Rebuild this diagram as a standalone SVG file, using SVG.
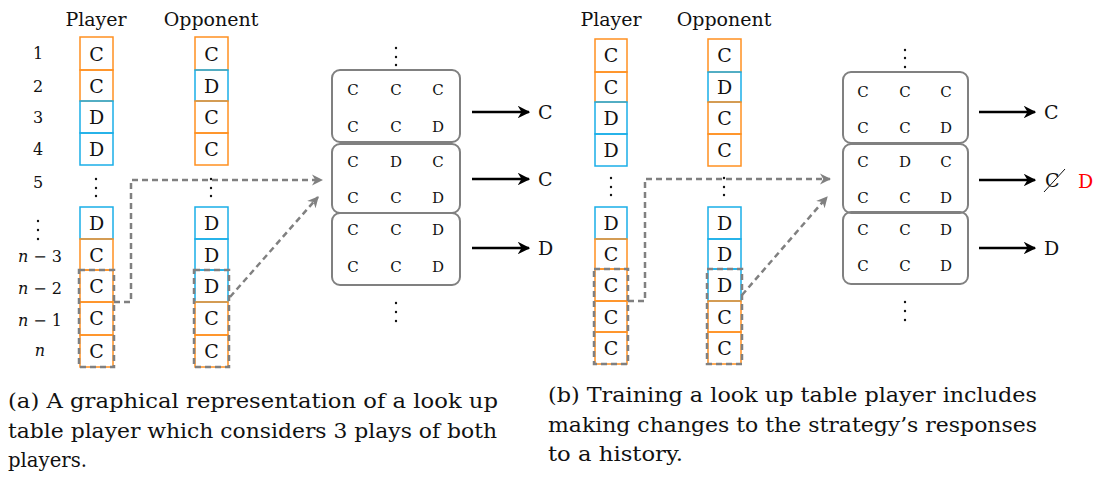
<svg xmlns="http://www.w3.org/2000/svg" width="1101" height="480" viewBox="0 0 1101 480">
<style>
text{font-family:"DejaVu Serif","Liberation Serif",serif;fill:#111}
.hd{font-size:19px;text-anchor:middle}
.cell{font-size:19px;text-anchor:middle;dominant-baseline:central}
.sm{font-size:15px;text-anchor:middle;dominant-baseline:central}
.lab{font-size:16px;text-anchor:middle;dominant-baseline:central}
.out{font-size:19px;dominant-baseline:central}
.cap{font-size:20px}
.o{fill:none;stroke:#FF9020;stroke-width:1.5}
.b{fill:none;stroke:#1AAEE8;stroke-width:1.5}
.dbox{fill:none;stroke:#808080;stroke-width:2.5;stroke-dasharray:6 4}
.dl{fill:none;stroke:#808080;stroke-width:2.5;stroke-dasharray:6 4}
.rb{fill:none;stroke:#808080;stroke-width:2}
.ar{stroke:#000;stroke-width:2.5;fill:none}
.dot{fill:#111}
</style>
<defs>
<marker id="ah" viewBox="0 0 10 10" refX="9" refY="5" markerWidth="5" markerHeight="5" orient="auto" markerUnits="strokeWidth">
<path d="M0,0 L10,5 L0,10 L3,5 Z" fill="#000"/>
</marker>
<marker id="ag" viewBox="0 0 10 10" refX="9" refY="5" markerWidth="4.5" markerHeight="4.5" orient="auto" markerUnits="strokeWidth">
<path d="M0,0 L10,5 L0,10 L3,5 Z" fill="#808080"/>
</marker>
</defs>

<!-- ===== Panel (a) ===== -->
<g id="a-headers">
<text class="hd" x="96" y="26">Player</text>
<text class="hd" x="211" y="26">Opponent</text>
</g>
<g id="a-rowlabels">
<text class="lab" x="38" y="53">1</text>
<text class="lab" x="38" y="86">2</text>
<text class="lab" x="38" y="117">3</text>
<text class="lab" x="38" y="149">4</text>
<text class="lab" x="38" y="182">5</text>
<circle class="dot" cx="38" cy="221" r="1.2"/><circle class="dot" cx="38" cy="230" r="1.2"/><circle class="dot" cx="38" cy="239" r="1.2"/>
<text class="lab" x="40" y="256"><tspan font-style="italic">n</tspan> − 3</text>
<text class="lab" x="40" y="288"><tspan font-style="italic">n</tspan> − 2</text>
<text class="lab" x="40" y="320"><tspan font-style="italic">n</tspan> − 1</text>
<text class="lab" x="40" y="350" font-style="italic">n</text>
</g>
<g id="a-player">
<rect class="o" x="80" y="37" width="33" height="33"/><text class="cell" x="96.5" y="54">C</text>
<rect class="o" x="80" y="70" width="33" height="31"/><text class="cell" x="96.5" y="86">C</text>
<rect class="b" x="80" y="101" width="33" height="32"/><text class="cell" x="96.5" y="117">D</text>
<rect class="b" x="80" y="133" width="33" height="32"/><text class="cell" x="96.5" y="149">D</text>
<circle class="dot" cx="96" cy="179" r="1.2"/><circle class="dot" cx="96" cy="188" r="1.2"/><circle class="dot" cx="96" cy="196" r="1.2"/>
<rect class="b" x="80" y="207" width="33" height="32"/><text class="cell" x="96.5" y="223">D</text>
<rect class="o" x="80" y="239" width="33" height="31"/><text class="cell" x="96.5" y="255">C</text>
<rect class="o" x="80" y="270" width="33" height="32"/><text class="cell" x="96.5" y="286">C</text>
<rect class="o" x="80" y="302" width="33" height="33"/><text class="cell" x="96.5" y="318">C</text>
<rect class="o" x="80" y="335" width="33" height="32"/><text class="cell" x="96.5" y="351">C</text>
<rect class="dbox" x="79" y="270" width="35" height="97"/>
</g>
<g id="a-opponent">
<rect class="o" x="195" y="37" width="33" height="33"/><text class="cell" x="211.5" y="54">C</text>
<rect class="b" x="195" y="70" width="33" height="31"/><text class="cell" x="211.5" y="86">D</text>
<rect class="o" x="195" y="101" width="33" height="32"/><text class="cell" x="211.5" y="117">C</text>
<rect class="o" x="195" y="133" width="33" height="32"/><text class="cell" x="211.5" y="149">C</text>
<circle class="dot" cx="211" cy="179" r="1.2"/><circle class="dot" cx="211" cy="188" r="1.2"/><circle class="dot" cx="211" cy="196" r="1.2"/>
<rect class="b" x="195" y="207" width="33" height="32"/><text class="cell" x="211.5" y="223">D</text>
<rect class="b" x="195" y="239" width="33" height="31"/><text class="cell" x="211.5" y="255">D</text>
<rect class="b" x="195" y="270" width="33" height="32"/><text class="cell" x="211.5" y="286">D</text>
<rect class="o" x="195" y="302" width="33" height="33"/><text class="cell" x="211.5" y="318">C</text>
<rect class="o" x="195" y="335" width="33" height="32"/><text class="cell" x="211.5" y="351">C</text>
<rect class="dbox" x="194" y="270" width="35" height="97"/>
</g>
<g id="a-table">
<circle class="dot" cx="396" cy="48" r="1.2"/><circle class="dot" cx="396" cy="57" r="1.2"/><circle class="dot" cx="396" cy="65" r="1.2"/>
<rect class="rb" x="332" y="70" width="128" height="72" rx="8"/>
<text class="sm" x="353" y="90">C</text><text class="sm" x="396" y="90">C</text><text class="sm" x="438" y="90">C</text>
<text class="sm" x="353" y="127">C</text><text class="sm" x="396" y="127">C</text><text class="sm" x="438" y="127">D</text>
<rect class="rb" x="332" y="144" width="128" height="69" rx="8"/>
<text class="sm" x="353" y="162">C</text><text class="sm" x="396" y="162">D</text><text class="sm" x="438" y="162">C</text>
<text class="sm" x="353" y="198">C</text><text class="sm" x="396" y="198">C</text><text class="sm" x="438" y="198">D</text>
<rect class="rb" x="332" y="213" width="128" height="72" rx="8"/>
<text class="sm" x="353" y="230">C</text><text class="sm" x="396" y="230">C</text><text class="sm" x="438" y="230">D</text>
<text class="sm" x="353" y="267">C</text><text class="sm" x="396" y="267">C</text><text class="sm" x="438" y="267">D</text>
<circle class="dot" cx="396" cy="303" r="1.2"/><circle class="dot" cx="396" cy="312" r="1.2"/><circle class="dot" cx="396" cy="321" r="1.2"/>
</g>
<g id="a-outputs">
<text class="out" x="538" y="112">C</text>
<text class="out" x="538" y="179">C</text>
<text class="out" x="538" y="248">D</text>
</g>

<!-- ===== Panel (b) ===== -->
<g id="b-headers">
<text class="hd" x="611" y="26">Player</text>
<text class="hd" x="724" y="26">Opponent</text>
</g>
<g id="b-player">
<rect class="o" x="595" y="39" width="32" height="33"/><text class="cell" x="611" y="55">C</text>
<rect class="o" x="595" y="72" width="32" height="30"/><text class="cell" x="611" y="87">C</text>
<rect class="b" x="595" y="102" width="32" height="32"/><text class="cell" x="611" y="118">D</text>
<rect class="b" x="595" y="134" width="32" height="32"/><text class="cell" x="611" y="150">D</text>
<circle class="dot" cx="611" cy="178" r="1.2"/><circle class="dot" cx="611" cy="187" r="1.2"/><circle class="dot" cx="611" cy="195" r="1.2"/>
<rect class="b" x="595" y="207" width="32" height="32"/><text class="cell" x="611" y="223">D</text>
<rect class="o" x="595" y="239" width="32" height="30"/><text class="cell" x="611" y="254">C</text>
<rect class="o" x="595" y="269" width="32" height="32"/><text class="cell" x="611" y="285">C</text>
<rect class="o" x="595" y="301" width="32" height="31"/><text class="cell" x="611" y="317">C</text>
<rect class="o" x="595" y="332" width="32" height="32"/><text class="cell" x="611" y="348">C</text>
<rect class="dbox" x="594" y="269" width="34" height="95"/>
</g>
<g id="b-opponent">
<rect class="o" x="708" y="39" width="33" height="33"/><text class="cell" x="724.5" y="55">C</text>
<rect class="b" x="708" y="72" width="33" height="30"/><text class="cell" x="724.5" y="87">D</text>
<rect class="o" x="708" y="102" width="33" height="32"/><text class="cell" x="724.5" y="118">C</text>
<rect class="o" x="708" y="134" width="33" height="32"/><text class="cell" x="724.5" y="150">C</text>
<circle class="dot" cx="724" cy="178" r="1.2"/><circle class="dot" cx="724" cy="187" r="1.2"/><circle class="dot" cx="724" cy="195" r="1.2"/>
<rect class="b" x="708" y="207" width="33" height="32"/><text class="cell" x="724.5" y="223">D</text>
<rect class="b" x="708" y="239" width="33" height="30"/><text class="cell" x="724.5" y="254">D</text>
<rect class="b" x="708" y="269" width="33" height="32"/><text class="cell" x="724.5" y="285">D</text>
<rect class="o" x="708" y="301" width="33" height="31"/><text class="cell" x="724.5" y="317">C</text>
<rect class="o" x="708" y="332" width="33" height="32"/><text class="cell" x="724.5" y="348">C</text>
<rect class="dbox" x="707" y="269" width="35" height="95"/>
</g>
<g id="b-table">
<circle class="dot" cx="905" cy="50" r="1.2"/><circle class="dot" cx="905" cy="58" r="1.2"/><circle class="dot" cx="905" cy="67" r="1.2"/>
<rect class="rb" x="843" y="72" width="125" height="71" rx="8"/>
<text class="sm" x="863" y="92">C</text><text class="sm" x="905" y="92">C</text><text class="sm" x="946" y="92">C</text>
<text class="sm" x="863" y="128">C</text><text class="sm" x="905" y="128">C</text><text class="sm" x="946" y="128">D</text>
<rect class="rb" x="843" y="144" width="125" height="69" rx="8"/>
<text class="sm" x="863" y="162">C</text><text class="sm" x="905" y="162">D</text><text class="sm" x="946" y="162">C</text>
<text class="sm" x="863" y="198">C</text><text class="sm" x="905" y="198">C</text><text class="sm" x="946" y="198">D</text>
<rect class="rb" x="843" y="212" width="125" height="72" rx="8"/>
<text class="sm" x="863" y="230">C</text><text class="sm" x="905" y="230">C</text><text class="sm" x="946" y="230">D</text>
<text class="sm" x="863" y="266">C</text><text class="sm" x="905" y="266">C</text><text class="sm" x="946" y="266">D</text>
<circle class="dot" cx="905" cy="302" r="1.2"/><circle class="dot" cx="905" cy="311" r="1.2"/><circle class="dot" cx="905" cy="320" r="1.2"/>
</g>
<g id="b-outputs">
<text class="out" x="1044" y="112">C</text>
<text class="out" x="1045" y="180">C</text>
<line x1="1044" y1="192" x2="1065" y2="169" stroke="#111" stroke-width="1"/>
<text class="out" x="1078" y="181" style="fill:#FF0000">D</text>
<text class="out" x="1044" y="248">D</text>
</g>

<!-- ===== Connectors ===== -->
<g id="connectors">
<path class="dl" d="M114,302 H131 V180 H322" marker-end="url(#ag)"/>
<path class="dl" d="M230,297 L318,197" marker-end="url(#ag)"/>
<line class="ar" x1="472" y1="112" x2="529" y2="112" marker-end="url(#ah)"/>
<line class="ar" x1="472" y1="179" x2="529" y2="179" marker-end="url(#ah)"/>
<line class="ar" x1="472" y1="248" x2="529" y2="248" marker-end="url(#ah)"/>
<path class="dl" d="M628,301 H645 V179 H830" marker-end="url(#ag)"/>
<path class="dl" d="M742,295 L827,197" marker-end="url(#ag)"/>
<line class="ar" x1="979" y1="112" x2="1035" y2="112" marker-end="url(#ah)"/>
<line class="ar" x1="979" y1="180" x2="1035" y2="180" marker-end="url(#ah)"/>
<line class="ar" x1="979" y1="248" x2="1035" y2="248" marker-end="url(#ah)"/>
</g>

<!-- ===== Captions ===== -->
<g id="captions">
<text class="cap" x="8" y="408" textLength="490" lengthAdjust="spacingAndGlyphs">(a) A graphical representation of a look up</text>
<text class="cap" x="8" y="438" textLength="489" lengthAdjust="spacingAndGlyphs">table player which considers 3 plays of both</text>
<text class="cap" x="8" y="467" textLength="79" lengthAdjust="spacingAndGlyphs">players.</text>
<text class="cap" x="548" y="402" textLength="489" lengthAdjust="spacingAndGlyphs">(b) Training a look up table player includes</text>
<text class="cap" x="548" y="432" textLength="489" lengthAdjust="spacingAndGlyphs">making changes to the strategy’s responses</text>
<text class="cap" x="548" y="461" textLength="135" lengthAdjust="spacingAndGlyphs">to a history.</text>
</g>
</svg>
